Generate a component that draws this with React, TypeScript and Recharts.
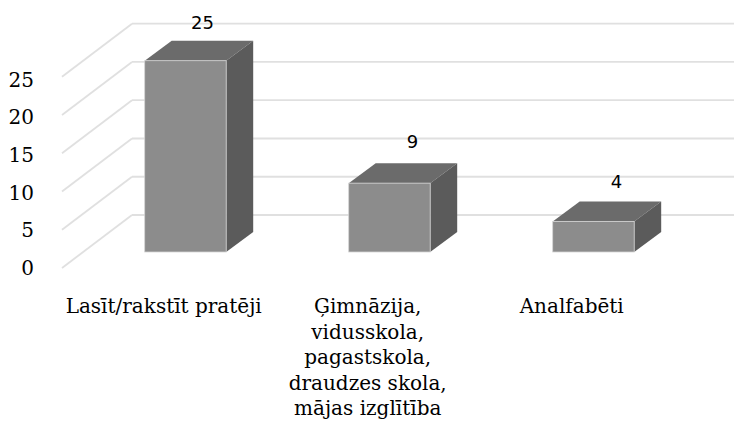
import { Bar, BarChart, CartesianGrid, LabelList, XAxis, YAxis } from "recharts";

const categories = [
  ["Lasīt/rakstīt pratēji"],
  ["Ģimnāzija,", "vidusskola,", "pagastskola,", "draudzes skola,", "mājas izglītība"],
  ["Analfabēti"],
];
const values = [25, 9, 4];
const yTicks = [0, 5, 10, 15, 20, 25];

const data = categories.map((lines, i) => ({ name: lines.join(" "), lines, value: values[i] }));

// fake 3d: how far the bar depth and the wall sit from the front plane
const BAR_DX = 27;
const BAR_DY = -20;
const WALL_DX = 70;
const WALL_DY = -53;
const FLOOR_DROP = 16;
const AXIS_X = 62;
// labels in the source aren't placed evenly over the bars
const LABEL_DX = [17, 23, 23];
const LABEL_DY = [-12, -15, -13];

function GridLine(props: any) {
  const y = props.y1;
  const backX = AXIS_X + WALL_DX;
  const backY = y + FLOOR_DROP + WALL_DY;
  return (
    <g>
      <line x1={AXIS_X} y1={y + FLOOR_DROP} x2={backX} y2={backY} stroke="#e0e0e0" strokeWidth={1.8} />
      <line x1={backX} y1={backY} x2={734} y2={backY} stroke="#e0e0e0" strokeWidth={1.8} />
    </g>
  );
}

function Box3D(props: any) {
  const { x, y, width, height } = props;
  const r = x + width;
  const b = y + height;
  return (
    <g>
      <polygon
        points={`${x},${y} ${x + BAR_DX},${y + BAR_DY} ${r + BAR_DX},${y + BAR_DY} ${r},${y}`}
        fill="#6b6b6b"
      />
      <polygon
        points={`${r},${y} ${r + BAR_DX},${y + BAR_DY} ${r + BAR_DX},${b + BAR_DY} ${r},${b}`}
        fill="#5b5b5b"
      />
      <rect x={x} y={y} width={width} height={height} fill="#8c8c8c" stroke="#d4d4d4" strokeWidth={0.8} />
    </g>
  );
}

function YTick({ y, payload }: any) {
  return (
    <text
      x={34}
      y={y + FLOOR_DROP + 7 + (payload.value / 25) * 3}
      textAnchor="end"
      fontFamily="DejaVu Serif"
      fontSize={20}
      fill="#000"
    >
      {payload.value}
    </text>
  );
}

function XTick({ x, index }: any) {
  return (
    <text textAnchor="middle" fontFamily="DejaVu Serif" fontSize={20} fill="#000">
      {categories[index].map((line, i) => (
        <tspan key={line} x={x - 22} y={313 + i * 25.6}>
          {line}
        </tspan>
      ))}
    </text>
  );
}

function ValueLabel({ x, y, width, value, index }: any) {
  return (
    <text
      x={x + width / 2 + LABEL_DX[index]}
      y={y + BAR_DY + LABEL_DY[index]}
      textAnchor="middle"
      fontFamily="DejaVu Sans"
      fontSize={18}
      fill="#000"
    >
      {value}
    </text>
  );
}

export default function App() {
  return (
    <div style={{ position: "absolute", left: 0, top: 0, width: 734, height: 421, background: "#fff" }}>
      <BarChart
        width={734}
        height={421}
        data={data}
        margin={{ top: 60.7, right: 38.3, bottom: 0, left: 0 }}
      >
        <CartesianGrid vertical={false} horizontal={(p: any) => <GridLine key={p.y1} {...p} />} />
        <XAxis
          dataKey="name"
          height={169}
          axisLine={false}
          tickLine={false}
          interval={0}
          tick={<XTick />}
        />
        <YAxis
          width={83.7}
          domain={[0, 25]}
          ticks={yTicks}
          axisLine={false}
          tickLine={false}
          tick={<YTick />}
        />
        <Bar dataKey="value" barSize={81.5} shape={<Box3D />} isAnimationActive={false}>
          <LabelList dataKey="value" content={<ValueLabel />} />
        </Bar>
      </BarChart>
    </div>
  );
}
